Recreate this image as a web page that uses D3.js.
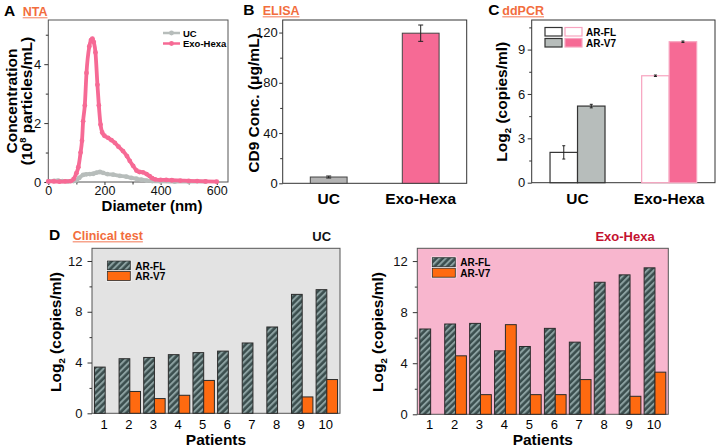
<!DOCTYPE html>
<html>
<head>
<meta charset="utf-8">
<script src="https://cdn.jsdelivr.net/npm/d3@7"></script>
<style>
  body { margin: 0; background: #fff; }
  svg { font-family: "Liberation Sans", Arial, sans-serif; }
</style>
</head>
<body>
<svg id="fig" width="718" height="447"></svg>
<script>
//============================================================
// Data
//------------------------------------------------------------

// A: NTA size distribution (diameter nm, concentration 10^8 particles/mL)
var hexaDiameter = [0, 20, 40, 60, 80, 90, 100, 107, 115, 120, 124, 130, 136, 146, 152, 157, 162, 168, 175, 180,
                    186, 192, 200, 213, 225, 237, 250, 266, 280, 290, 302, 314, 325, 337, 350, 361, 370, 380,
                    400, 420, 440, 470, 500, 530, 560, 600];
var hexaConc     = [0.02, 0.02, 0.01, 0.02, 0.03, 0.1, 0.3, 0.5, 1.0, 1.4, 2.06, 2.6, 3.7, 4.6, 4.82, 4.87, 4.75, 4.4, 3.3, 2.6,
                    1.95, 1.68, 1.57, 1.5, 1.42, 1.33, 1.2, 1.05, 0.88, 0.72, 0.55, 0.39, 0.34, 0.33, 0.27, 0.2, 0.13, 0.09,
                    0.07, 0.07, 0.06, 0.05, 0.04, 0.03, 0.02, 0.01];
var ucDiameter   = [0, 20, 35, 50, 70, 90, 100, 110, 124, 135, 148, 160, 172, 184, 195, 210, 231, 255, 278, 296,
                    314, 332, 350, 370, 400, 450, 500, 560];
var ucConc       = [0.02, 0.04, 0.05, 0.03, 0.02, 0.03, 0.06, 0.14, 0.24, 0.26, 0.27, 0.28, 0.32, 0.34, 0.31, 0.27, 0.25, 0.21, 0.18, 0.14,
                    0.11, 0.08, 0.05, 0.03, 0.02, 0.01, 0.01, 0.01];
var ntaSeries = ['UC', 'Exo-Hexa'];

// B: ELISA CD9 concentration
var elisaGroups = ['UC', 'Exo-Hexa'];
var elisaValues = [5, 119.5];
var elisaErrors = [0.8, 6.5];

// C: ddPCR
var pcrGroups = ['UC', 'Exo-Hexa'];
var pcrSeries = ['AR-FL', 'AR-V7'];
var pcrFL     = [2.05, 7.23];
var pcrFLErr  = [0.45, 0.05];
var pcrV7     = [5.18, 9.53];
var pcrV7Err  = [0.12, 0.05];

// D: clinical test
var patients = [1, 2, 3, 4, 5, 6, 7, 8, 9, 10];
var ucFL   = [3.64, 4.3, 4.4, 4.62, 4.78, 4.9, 5.54, 6.8, 9.37, 9.74];
var ucV7   = [0, 1.72, 1.16, 1.42, 2.59, 0, 0, 0, 1.29, 2.66];
var hexaFL = [6.68, 7.07, 7.12, 4.97, 5.31, 6.73, 5.65, 10.34, 10.92, 11.47];
var hexaV7 = [0, 4.58, 1.54, 7.02, 1.54, 1.54, 2.72, 0, 1.41, 3.3];

//============================================================
// Styles
//------------------------------------------------------------

var pink = '#f66a95'
  , pinkLine = '#f7a3bf'
  , gray = '#b3b3b3'
  , grayGreen = '#b7bdbb'
  , orange = '#ff6a10'
  , labelOrange = '#f26d3d'
  , frameColor = '#333'
  , tickFont = 13
  ;

var svg = d3.select('#fig');

var defs = svg.append('defs');
var hatch = defs.append('pattern')
    .attr('id', 'hatch')
    .attr('patternUnits', 'userSpaceOnUse')
    .attr('width', 4.5)
    .attr('height', 4.5)
    .attr('patternTransform', 'rotate(45)');
hatch.append('rect').attr('width', 4.5).attr('height', 4.5).attr('fill', '#3a4d4d');
hatch.append('rect').attr('x', 0).attr('width', 2).attr('height', 4.5).attr('fill', '#8ba0a0');

//============================================================
// Helpers
//------------------------------------------------------------

function styleAxis(s, size) {
  s.attr('font-family', '"Liberation Sans", Arial, sans-serif').attr('font-size', size);
  s.select('.domain').remove();
  s.selectAll('.tick line').attr('stroke', frameColor);
  s.selectAll('.tick text').attr('fill', '#111');
}

function yAxis(g, y, x0, major, minor, opts) {
  opts = opts || {};
  g.append('g')
      .attr('transform', 'translate(' + x0 + ',0)')
      .call(d3.axisLeft(y).tickValues(major).tickSize(opts.size || 4).tickPadding(opts.pad || 2).tickFormat(d3.format('d')))
      .call(function (s) { styleAxis(s, opts.font || tickFont); });
  g.append('g')
      .attr('transform', 'translate(' + x0 + ',0)')
      .call(d3.axisLeft(y).tickValues(minor).tickSize(2.5).tickFormat(''))
      .call(function (s) { styleAxis(s, 10); });
}

function frame(g, x0, y0, x1, y1, fill, stroke) {
  g.append('rect')
      .attr('x', x0).attr('y', y0)
      .attr('width', x1 - x0).attr('height', y1 - y0)
      .attr('fill', fill || 'none')
      .attr('stroke', stroke || frameColor)
      .attr('stroke-width', 1);
}

function panelTitle(letter, lx, label, tx, baseline, size) {
  svg.append('text')
      .attr('x', lx).attr('y', baseline)
      .attr('font-weight', 'bold').attr('font-size', size || 15.5)
      .text(letter);
  var t = svg.append('text')
      .attr('x', tx).attr('y', baseline)
      .attr('font-weight', 'bold').attr('font-size', 12.5)
      .attr('fill', labelOrange)
      .text(label);
  var w = t.node().getComputedTextLength();
  svg.append('line')
      .attr('x1', tx).attr('x2', tx + w)
      .attr('y1', baseline + 2.2).attr('y2', baseline + 2.2)
      .attr('stroke', '#f7a48c').attr('stroke-width', 1.4);
}

function yTitle(cx, cy, build, size) {
  var t = svg.append('text')
      .attr('transform', 'translate(' + cx + ',' + cy + ') rotate(-90)')
      .attr('text-anchor', 'middle')
      .attr('font-weight', 'bold')
      .attr('font-size', size || 15.5);
  build(t);
  return t;
}

function log2Label(t) {
  t.append('tspan').text('Log');
  t.append('tspan').attr('font-size', '0.62em').attr('dy', 4).text('2');
  t.append('tspan').attr('dy', -4).text(' (copies/ml)');
}

function errorBar(g, cx, yTop, yBot, cap) {
  g.append('line').attr('x1', cx).attr('x2', cx).attr('y1', yTop).attr('y2', yBot)
      .attr('stroke', '#222').attr('stroke-width', 1);
  [yTop, yBot].forEach(function (yy) {
    g.append('line').attr('x1', cx - cap).attr('x2', cx + cap).attr('y1', yy).attr('y2', yy)
        .attr('stroke', '#222').attr('stroke-width', 1);
  });
}

//============================================================
// A: NTA
//------------------------------------------------------------

(function () {
  var g = svg.append('g');
  var x = d3.scaleLinear().domain([0, 640]).range([48.3, 228]);
  var y = d3.scaleLinear().domain([0, 5.5]).range([182, 20]);

  frame(g, 48.3, 20, 228, 182, '#fff', '#555');

  g.append('g')
      .attr('transform', 'translate(0,182)')
      .call(d3.axisBottom(x).tickValues([0, 200, 400, 600]).tickSize(3).tickPadding(1))
      .call(function (s) { styleAxis(s, 12.5); });
  g.append('g')
      .attr('transform', 'translate(0,182)')
      .call(d3.axisBottom(x).tickValues([100, 300, 500]).tickSize(2.5).tickFormat(''))
      .call(function (s) { styleAxis(s, 10); });
  yAxis(g, y, 48.3, [0, 2, 4], [1, 3, 5], {size: 4, pad: 3});

  var line = d3.line()
      .x(function (d) { return x(d[0]); })
      .y(function (d) { return y(d[1]); })
      .curve(d3.curveMonotoneX);

  var ucPts = ucDiameter.map(function (d, i) { return [d, ucConc[i]]; });
  var hexaPts = hexaDiameter.map(function (d, i) { return [d, hexaConc[i]]; });

  [[ucPts, grayGreen], [hexaPts, pink]].forEach(function (s) {
    g.append('path').datum(s[0])
        .attr('d', line)
        .attr('fill', 'none')
        .attr('stroke', s[1])
        .attr('stroke-width', 3.8)
        .attr('stroke-linejoin', 'round');
    g.selectAll(null).data(s[0]).enter().append('circle')
        .attr('cx', function (d) { return x(d[0]); })
        .attr('cy', function (d) { return y(d[1]); })
        .attr('r', 2.4)
        .attr('fill', s[1]);
  });

  // legend
  var lg = g.selectAll('.nta-legend').data(ntaSeries).enter().append('g')
      .attr('transform', function (d, i) { return 'translate(163,' + (33 + i * 10.5) + ')'; });
  lg.append('line').attr('x1', 0).attr('x2', 17).attr('y1', 0).attr('y2', 0)
      .attr('stroke', function (d, i) { return i ? pink : grayGreen; }).attr('stroke-width', 2.5);
  lg.append('circle').attr('cx', 8.5).attr('r', 2.4)
      .attr('fill', function (d, i) { return i ? pink : grayGreen; });
  lg.append('text').attr('x', 20).attr('y', 3.5)
      .attr('font-weight', 'bold').attr('font-size', 9.5)
      .text(function (d) { return d; });

  svg.append('text').attr('x', 152).attr('y', 210.5)
      .attr('text-anchor', 'middle').attr('font-weight', 'bold').attr('font-size', 15)
      .text('Diameter (nm)');
  yTitle(17, 101, function (t) { t.text('Concentration'); });
  yTitle(32, 101, function (t) {
    t.append('tspan').text('(10');
    t.append('tspan').attr('font-size', '0.6em').attr('dy', -6).text('8');
    t.append('tspan').attr('dy', 6).text(' particles/mL)');
  });
  panelTitle('A', 4, 'NTA', 22.7, 15.5);
})();

//============================================================
// B: ELISA
//------------------------------------------------------------

(function () {
  var g = svg.append('g');
  var x = d3.scaleBand().domain(elisaGroups).range([282.7, 466.7]).paddingInner(0.6).paddingOuter(0.3);
  var y = d3.scaleLinear().domain([0, 130]).range([183.3, 20]);

  frame(g, 282.7, 20, 466.7, 183.3, '#fff');
  yAxis(g, y, 282.7, [0, 40, 80, 120], [20, 60, 100], {size: 3.5, pad: 1.5});

  g.selectAll('.bar').data(elisaValues).enter().append('rect')
      .attr('x', function (d, i) { return x(elisaGroups[i]); })
      .attr('width', x.bandwidth())
      .attr('y', function (d) { return y(d); })
      .attr('height', function (d) { return y(0) - y(d); })
      .attr('fill', function (d, i) { return i ? pink : gray; })
      .attr('stroke', '#444')
      .attr('stroke-width', 1);

  elisaValues.forEach(function (v, i) {
    errorBar(g, x(elisaGroups[i]) + x.bandwidth() / 2, y(v + elisaErrors[i]), y(v - elisaErrors[i]), 2.5);
  });

  g.selectAll('.xl').data(elisaGroups).enter().append('text')
      .attr('x', function (d) { return x(d) + x.bandwidth() / 2; })
      .attr('y', 204)
      .attr('text-anchor', 'middle').attr('font-weight', 'bold').attr('font-size', 15.5)
      .text(function (d) { return d; });

  yTitle(259, 103, function (t) { t.text('CD9 Conc. (\u03bcg/mL)'); });
  panelTitle('B', 243.3, 'ELISA', 262.7, 14.5);
})();

//============================================================
// C: ddPCR
//------------------------------------------------------------

(function () {
  var g = svg.append('g');
  var x = d3.scaleBand().domain(pcrGroups).range([531.7, 715]).paddingInner(0.4).paddingOuter(0.2);
  var xs = d3.scaleBand().domain(pcrSeries).range([0, x.bandwidth()]);
  var y = d3.scaleLinear().domain([0, 11]).range([182.7, 20]);

  frame(g, 531.7, 20, 715, 182.7, '#fff');
  yAxis(g, y, 531.7, [0, 3, 6, 9], [1.5, 4.5, 7.5, 10.5], {size: 4, pad: 2.5});

  var fills = [['#fff', grayGreen], ['#fff', pink]];
  var strokes = [['#333', '#333'], [pinkLine, pinkLine]];
  var vals = [pcrFL, pcrV7], errs = [pcrFLErr, pcrV7Err];

  pcrGroups.forEach(function (grp, gi) {
    pcrSeries.forEach(function (ser, si) {
      var v = vals[si][gi], e = errs[si][gi];
      var bx = x(grp) + xs(ser);
      g.append('rect')
          .attr('x', bx).attr('width', xs.bandwidth())
          .attr('y', y(v)).attr('height', y(0) - y(v))
          .attr('fill', fills[gi][si])
          .attr('stroke', strokes[gi][si])
          .attr('stroke-width', 1.2);
      errorBar(g, bx + xs.bandwidth() / 2, y(v + e), y(v - e), 1.5);
    });
  });

  // legend: one column per group, one row per series
  pcrSeries.forEach(function (ser, si) {
    pcrGroups.forEach(function (grp, gi) {
      g.append('rect')
          .attr('x', 545 + gi * 20).attr('y', 27.5 + si * 11)
          .attr('width', 17).attr('height', 8.5)
          .attr('fill', fills[gi][si])
          .attr('stroke', strokes[gi][si])
          .attr('stroke-width', 1.2);
    });
    g.append('text')
        .attr('x', 586).attr('y', 35.5 + si * 11)
        .attr('font-weight', 'bold').attr('font-size', 10)
        .text(ser);
  });

  g.selectAll('.xl').data(pcrGroups).enter().append('text')
      .attr('x', function (d) { return x(d) + x.bandwidth() / 2; })
      .attr('y', 204)
      .attr('text-anchor', 'middle').attr('font-weight', 'bold').attr('font-size', 15.5)
      .text(function (d) { return d; });

  yTitle(507, 101.7, log2Label);
  panelTitle('C', 488.3, 'ddPCR', 502.3, 14.5);
})();

//============================================================
// D: Clinical test
//------------------------------------------------------------

function clinical(x0, x1, y0, y1, fl, v7, bg, title, titleColor, titleX, legendX, legendY, yTitleX) {
  var g = svg.append('g');
  var x = d3.scaleBand().domain(patients).range([x0, x1]).paddingInner(0.13).paddingOuter(0.1);
  var xs = d3.scaleBand().domain(pcrSeries).range([0, x.bandwidth()]);
  var y = d3.scaleLinear().domain([0, 13]).range([y1, y0]);

  frame(g, x0, y0, x1, y1, bg, '#555');
  yAxis(g, y, x0, [0, 4, 8, 12], [2, 6, 10], {size: 4.5, pad: 5});

  patients.forEach(function (p, i) {
    [fl[i], v7[i]].forEach(function (v, si) {
      if (!v) { return; }
      g.append('rect')
          .attr('x', x(p) + xs(pcrSeries[si]))
          .attr('width', xs.bandwidth())
          .attr('y', y(v))
          .attr('height', y(0) - y(v))
          .attr('fill', si ? orange : 'url(#hatch)')
          .attr('stroke', '#2b2b2b')
          .attr('stroke-width', 1);
    });
  });

  g.selectAll('.xl').data(patients).enter().append('text')
      .attr('x', function (d) { return x(d) + x.bandwidth() / 2 - 1; })
      .attr('y', 428.5)
      .attr('text-anchor', 'middle').attr('font-size', tickFont)
      .text(function (d) { return d; });

  // legend
  var lg = g.selectAll('.lg').data(pcrSeries).enter().append('g')
      .attr('transform', function (d, i) { return 'translate(' + legendX + ',' + (legendY + i * 10.5) + ')'; });
  lg.append('rect').attr('x', -1).attr('y', -1).attr('width', 25).attr('height', 11)
      .attr('fill', '#fff');
  lg.append('rect').attr('width', 23).attr('height', 9)
      .attr('fill', function (d, i) { return i ? orange : 'url(#hatch)'; })
      .attr('stroke', '#2b2b2b').attr('stroke-width', 0.8);
  lg.append('text').attr('x', 28).attr('y', 8.5)
      .attr('font-weight', 'bold').attr('font-size', 10)
      .text(function (d) { return d; });

  svg.append('text').attr('x', (x0 + x1) / 2).attr('y', 445)
      .attr('text-anchor', 'middle').attr('font-weight', 'bold').attr('font-size', 15.5)
      .text('Patients');
  svg.append('text').attr('x', titleX).attr('y', 241)
      .attr('text-anchor', 'middle').attr('font-weight', 'bold').attr('font-size', 13)
      .attr('fill', titleColor)
      .text(title);
  yTitle(yTitleX, 332, log2Label);
}

clinical(92, 340, 248.3, 413.3, ucFL, ucV7, '#e3e3e3', 'UC', '#111', 321.7, 107.3, 261, 61);
clinical(417.3, 668.3, 248.3, 414.3, hexaFL, hexaV7, '#f8b6ce', 'Exo-Hexa', '#c4122f', 625, 432.3, 257.7, 383);
panelTitle('D', 49, 'Clinical test', 72.7, 239.5);
</script>
</body>
</html>
